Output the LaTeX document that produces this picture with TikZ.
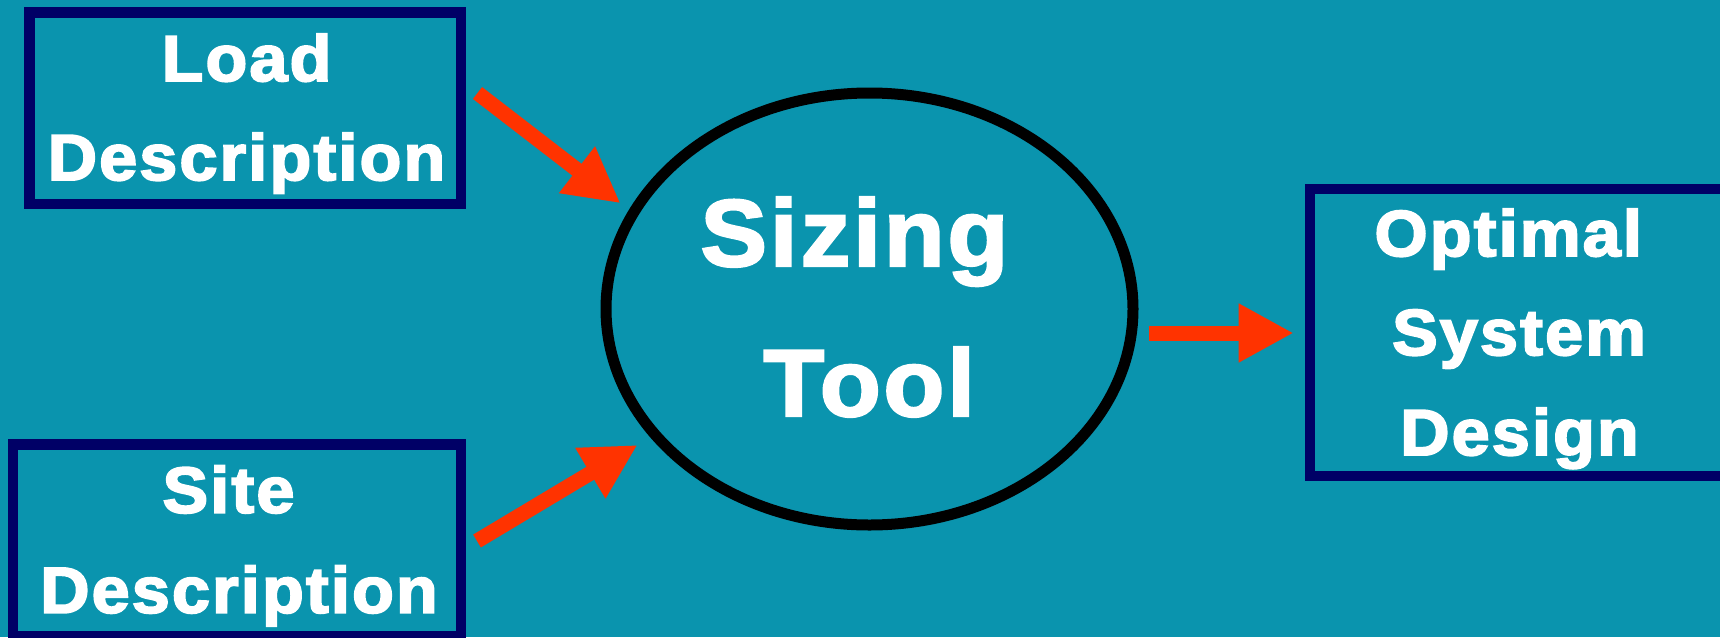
\documentclass[tikz,border=0pt]{standalone}
\usepackage{fontspec}
\setmainfont{Liberation Sans}
\newfontfamily\smallheavy{Liberation Sans Bold}[FakeStretch=1.05, FakeBold=3, LetterSpace=3.4]
\newfontfamily\bigheavy{Liberation Sans Bold}[FakeStretch=1.05, FakeBold=2.5, LetterSpace=3]
\usetikzlibrary{arrows.meta,shapes.geometric}
\definecolor{bgteal}{RGB}{10,148,174}
\definecolor{navy}{RGB}{0,0,102}
\definecolor{arrowred}{RGB}{255,51,0}
\tikzset{
  inbox/.style={draw=navy, line width=10.5pt, rectangle, inner sep=0pt},
  lbl/.style={anchor=base, text=white, inner sep=0pt,
    font=\smallheavy\fontsize{65}{65}\selectfont},
  biglbl/.style={anchor=base, text=white, inner sep=0pt,
    font=\bigheavy\fontsize{95}{95}\selectfont},
  arr/.style={draw=arrowred, line width=15pt, -{Triangle[length=55pt,width=55pt]}}
}
\begin{document}
\begin{tikzpicture}[x=1pt,y=-1pt]
\useasboundingbox (0,0) rectangle (1720,637);
\fill[bgteal] (0,0) rectangle (1720,637);
% boxes
\node[inbox, minimum width=431.5pt, minimum height=191.5pt] (load) at (245.25,108.25) {};
\node[inbox, minimum width=448pt, minimum height=191.5pt] (site) at (237,540.25) {};
\node[inbox, minimum width=416pt, minimum height=287pt] (design) at (1518,332.5) {};
% ellipse
\node[ellipse, draw=black, line width=11pt, inner sep=0pt,
      minimum width=527pt, minimum height=432pt] (tool) at (869.5,309) {};
% texts
\node[lbl] (loadA) at (246.5,81) {Load};
\node[lbl] (loadB) at (246.5,180) {Description};
\node[lbl] (siteA) at (228.5,512.7) {Site};
\node[lbl] (siteB) at (239,612.7) {Description};
\node[lbl] (desA) at (1508.2,256) {Optimal};
\node[lbl] (desB) at (1519.1,355) {System};
\node[lbl] (desC) at (1519.5,455) {Design};
\node[biglbl] (toolA) at (854.5,266) {Sizing};
\node[biglbl] (toolB) at (869.2,416) {Tool};
% arrows
\coordinate (a1s) at (477.5,93);
\coordinate (a1e) at (620.5,203.3);
\coordinate (a2s) at (477,541);
\coordinate (a2e) at (637.5,445);
\coordinate (a3s) at (1149.4,333);
\coordinate (a3e) at (1293.7,333);
\draw[arr] (a1s) -- (a1e);
\draw[arr] (a2s) -- (a2e);
\draw[arr] (a3s) -- (a3e);
\end{tikzpicture}
\end{document}
